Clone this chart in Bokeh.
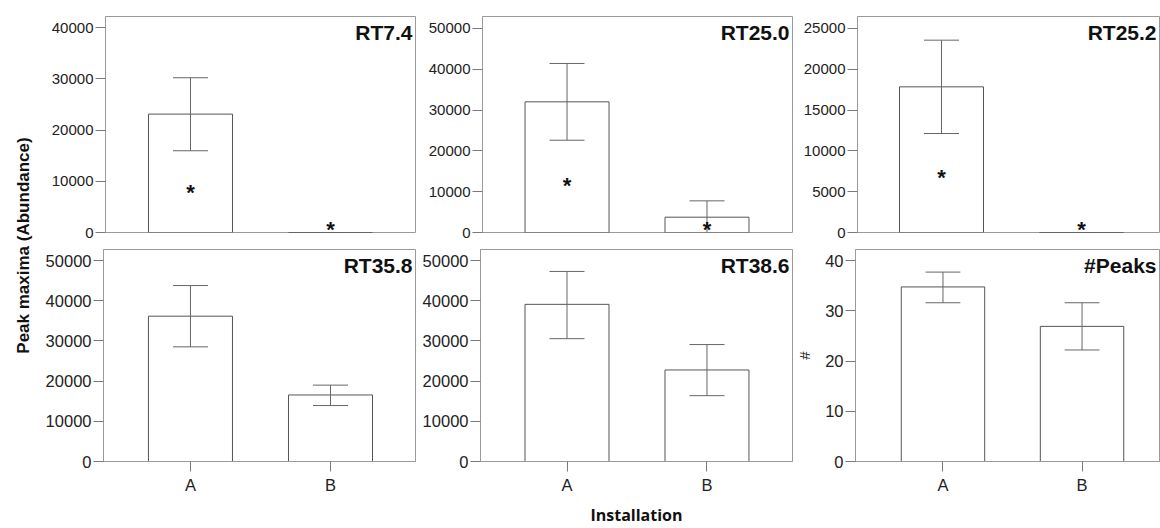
import math
import numpy as np
from bokeh.plotting import figure
from bokeh.layouts import row, column
from bokeh.models import FixedTicker, Range1d, ColumnDataSource, Label
from bokeh.core.properties import value
from bokeh.embed import file_html
from bokeh.resources import INLINE

# ---------------- data ----------------
categories = ["A", "B"]
panel_names = ["RT7.4", "RT25.0", "RT25.2", "RT35.8", "RT38.6", "#Peaks"]
nan = float("nan")

rt74_mean = [23100, 0]
rt74_low = [15950, nan]
rt74_high = [30200, nan]
rt74_star = [8420, 1225]

rt250_mean = [32000, 3750]
rt250_low = [22600, -250]
rt250_high = [41400, 7750]
rt250_star = [12150, 1370]

rt252_mean = [17850, 0]
rt252_low = [12130, nan]
rt252_high = [23570, nan]
rt252_star = [7140, 690]

rt358_mean = [36150, 16550]
rt358_low = [28520, 13920]
rt358_high = [43770, 19000]

rt386_mean = [39100, 22770]
rt386_low = [30560, 16380]
rt386_high = [47280, 29090]

peaks_mean = [34.75, 26.9]
peaks_low = [31.6, 22.2]
peaks_high = [37.7, 31.6]

y_max = [42150, 52900, 26470, 52740, 52740, 42.2]
y_ticks = [
    [0, 10000, 20000, 30000, 40000],
    [0, 10000, 20000, 30000, 40000, 50000],
    [0, 5000, 10000, 15000, 20000, 25000],
    [0, 10000, 20000, 30000, 40000, 50000],
    [0, 10000, 20000, 30000, 40000, 50000],
    [0, 10, 20, 30, 40],
]

# ---------------- style / layout ----------------
FRAME = "#9a9a9a"
BAR = "#555555"
ERR = "#666666"
TICK = "#7a7a7a"
TXT = "#222222"
FONT = "Liberation Sans"
BAR_W = 0.6
CAP_W = 0.25

# (x_start, x_end, width, left_border, frame_height, top_border, bottom_border, tick_font)
layouts = [
    (0.393, 2.607, 378, 67, 216, 16, 9, "15px"),
    (0.396, 2.611, 377, 66, 216, 16, 9, "15px"),
    (0.400, 2.557, 367, 64, 216, 16, 9, "15px"),
    (0.379, 2.607, 378, 65, 212, 8, 68, "16.5px"),
    (0.382, 2.611, 377, 64, 212, 8, 68, "16.5px"),
    (0.371, 2.557, 367, 60, 212, 8, 68, "16.5px"),
]

series = [
    (rt74_mean, rt74_low, rt74_high, rt74_star),
    (rt250_mean, rt250_low, rt250_high, rt250_star),
    (rt252_mean, rt252_low, rt252_high, rt252_star),
    (rt358_mean, rt358_low, rt358_high, None),
    (rt386_mean, rt386_low, rt386_high, None),
    (peaks_mean, peaks_low, peaks_high, None),
]

xpos = [i + 1 for i in range(len(categories))]


def make_panel(i):
    x0, x1, w, lb, fh, tb, bb, tf = layouts[i]
    mean, low, high, star = series[i]
    h = fh + tb + bb
    p = figure(width=w, height=h, x_range=Range1d(x0, x1), y_range=Range1d(0, y_max[i]),
               output_backend="svg", toolbar_location=None,
               min_border_left=lb, min_border_right=1, min_border_top=tb, min_border_bottom=bb)
    p.background_fill_color = "white"
    p.border_fill_color = "white"
    p.outline_line_color = FRAME
    p.outline_line_width = 1
    p.xgrid.visible = False
    p.ygrid.visible = False

    src = ColumnDataSource(dict(x=xpos, top=mean, lo=low, hi=high,
                                cl=[x - CAP_W / 2 for x in xpos],
                                cr=[x + CAP_W / 2 for x in xpos]))
    p.vbar(x="x", top="top", bottom=0, width=BAR_W, source=src,
           fill_color="white", line_color=BAR, line_width=1)
    p.segment(x0="x", y0="lo", x1="x", y1="hi", source=src, line_color=ERR, line_width=1)
    p.segment(x0="cl", y0="lo", x1="cr", y1="lo", source=src, line_color=ERR, line_width=1)
    p.segment(x0="cl", y0="hi", x1="cr", y1="hi", source=src, line_color=ERR, line_width=1)

    if star is not None:
        for xv, yv in zip(xpos, star):
            p.add_layout(Label(x=xv, y=yv, text="*", text_align="center", text_baseline="middle",
                               text_font=FONT, text_font_style="bold", text_font_size="22px",
                               text_color="#111111", y_offset=-3))

    p.text(x=[x1], y=[y_max[i]], text=[panel_names[i]], text_align="right", text_baseline="top",
           text_font=value(FONT), text_font_style="bold", text_font_size="21px",
           text_color="#111111", x_offset=-3, y_offset=4)

    ya = p.yaxis[0]
    ya.ticker = FixedTicker(ticks=y_ticks[i], minor_ticks=[])
    ya.major_tick_out = 10
    ya.major_tick_in = 0
    ya.major_tick_line_color = TICK
    ya.axis_line_color = FRAME
    ya.major_label_standoff = 2
    ya.major_label_text_font = FONT
    ya.major_label_text_font_size = tf
    ya.major_label_text_color = TXT

    xa = p.xaxis[0]
    if i < 3:
        xa.visible = False
    else:
        xa.ticker = FixedTicker(ticks=xpos, minor_ticks=[])
        xa.major_label_overrides = {x: c for x, c in zip(xpos, categories)}
        xa.major_tick_out = 10
        xa.major_tick_in = 0
        xa.major_tick_line_color = TICK
        xa.axis_line_color = FRAME
        xa.major_label_standoff = 4
        xa.major_label_text_font = FONT
        xa.major_label_text_font_size = tf
        xa.major_label_text_color = TXT
    if i == 4:
        xa.axis_label = "Installation"
        xa.axis_label_text_font = "Open Sans"
        xa.axis_label_text_font_style = "bold"
        xa.axis_label_text_font_size = "16px"
        xa.axis_label_text_color = "#111111"
        xa.axis_label_standoff = 7
    if i == 5:
        ya.axis_label = "#"
        ya.axis_label_text_font = FONT
        ya.axis_label_text_font_style = "normal"
        ya.axis_label_text_font_size = "15px"
        ya.axis_label_text_color = TXT
        ya.axis_label_standoff = 9
    return p


panels = [make_panel(i) for i in range(6)]

total_h = panels[0].height + panels[3].height
ylab = figure(width=38, height=total_h, x_range=Range1d(0, 38), y_range=Range1d(0, total_h),
              output_backend="svg", toolbar_location=None,
              min_border_left=0, min_border_right=0, min_border_top=0, min_border_bottom=0)
ylab.axis.visible = False
ylab.xgrid.visible = False
ylab.ygrid.visible = False
ylab.outline_line_color = None
ylab.border_fill_color = "white"
ylab.text(x=[23], y=[total_h - 245], text=["Peak maxima (Abundance)"], angle=math.pi / 2,
          text_align="center", text_baseline="middle", text_font=value(FONT),
          text_font_style="bold", text_font_size="17px", text_color="#111111")

layout = row(ylab, column(row(*panels[:3]), row(*panels[3:])))

open("out.html", "w").write(file_html(layout, INLINE))
